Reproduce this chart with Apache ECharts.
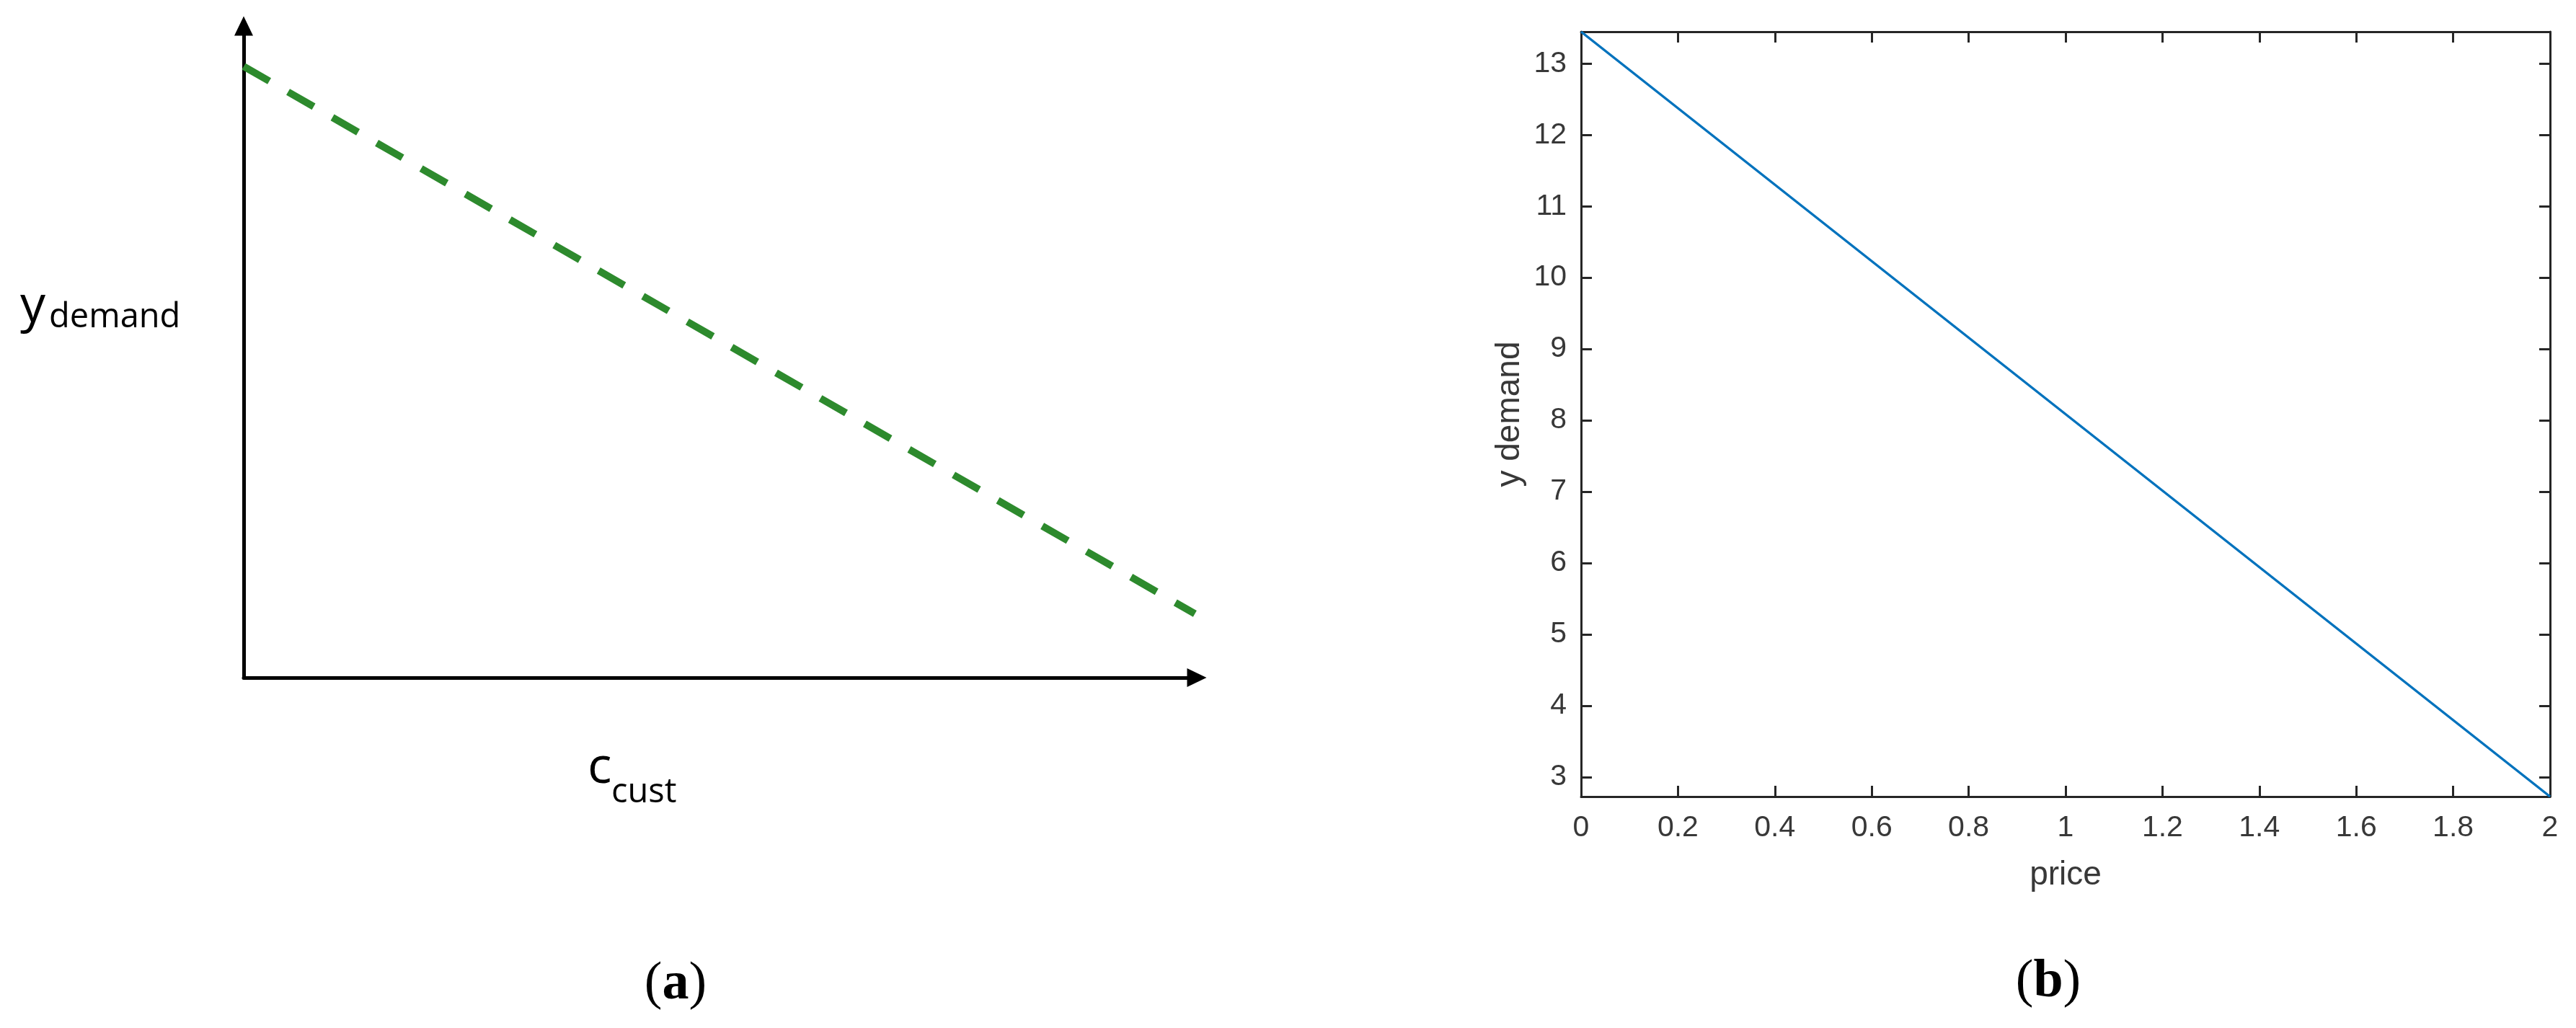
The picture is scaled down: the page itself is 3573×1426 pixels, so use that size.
<!DOCTYPE html>
<html>
<head>
<meta charset="utf-8">
<script src="https://cdn.jsdelivr.net/npm/echarts@6/dist/echarts.min.js"></script>
<style>
html,body{margin:0;padding:0;background:#fff;}
#chart{width:3573px;height:1426px;}
</style>
</head>
<body>
<div id="chart"></div>
<script>
// Panel (a): schematic demand vs customer cost (no numeric scale)
const schematicCost = [0, 0.998];
const schematicDemand = [0.938, 0.098];

// Panel (b): demand vs price
const priceValues = [0, 2];
const demandValues = [13.447, 2.727];
const priceTicks = [0, 0.2, 0.4, 0.6, 0.8, 1, 1.2, 1.4, 1.6, 1.8, 2];
const demandTicks = [3, 4, 5, 6, 7, 8, 9, 10, 11, 12, 13];

const axisColor = '#262626';
const labelColor = '#383838';
const sansB = 'Liberation Sans';
const serif = 'Liberation Serif';

const chart = echarts.init(document.getElementById('chart'), null, {renderer: 'canvas'});

const plainAxis = (idx, pos) => ({
  gridIndex: idx, type: 'value', min: 0, max: 1, position: pos,
  axisLine: {show: true, symbol: ['none', 'triangle'], symbolSize: [26, 27],
    lineStyle: {color: '#000', width: 5}},
  axisTick: {show: false}, axisLabel: {show: false}, splitLine: {show: false}
});

const boxAxisX = (pos, showLabel) => ({
  gridIndex: 1, type: 'value', min: 0, max: 2, interval: 0.2, position: pos,
  axisLine: {show: true, onZero: false, lineStyle: {color: axisColor, width: 3}},
  axisTick: {show: true, inside: true, length: 15, lineStyle: {color: axisColor, width: 3}},
  axisLabel: {show: showLabel, margin: 23, fontFamily: sansB, fontSize: 41, color: labelColor},
  splitLine: {show: false}
});

const boxAxisY = (pos, showLabel) => ({
  gridIndex: 1, type: 'value', min: 'dataMin', max: 'dataMax', position: pos,
  axisLine: {show: true, onZero: false, lineStyle: {color: axisColor, width: 3}},
  axisTick: {show: true, inside: true, length: 15, customValues: demandTicks,
    lineStyle: {color: axisColor, width: 3}},
  axisLabel: {show: showLabel, margin: 20, customValues: demandTicks,
    fontFamily: sansB, fontSize: 41, color: labelColor},
  splitLine: {show: false}
});

const xb = boxAxisX('bottom', true);
xb.name = 'price';
xb.nameLocation = 'middle';
xb.nameGap = 86;
xb.nameTextStyle = {fontFamily: sansB, fontSize: 46, color: labelColor};

const yb = boxAxisY('left', true);
yb.name = 'y demand';
yb.nameLocation = 'middle';
yb.nameGap = 76;
yb.nameTextStyle = {fontFamily: sansB, fontSize: 46, color: labelColor};

const option = {
  backgroundColor: '#ffffff',
  animation: false,
  grid: [
    {left: 338, top: 36, right: 1913, bottom: 486},
    {left: 2193, top: 44, right: 36, bottom: 321}
  ],
  xAxis: [
    plainAxis(0, 'bottom'),
    xb,
    boxAxisX('top', false)
  ],
  yAxis: [
    plainAxis(0, 'left'),
    yb,
    boxAxisY('right', false)
  ],
  series: [
    {
      type: 'line', xAxisIndex: 0, yAxisIndex: 0, symbol: 'none',
      data: schematicCost.map((c, i) => [c, schematicDemand[i]]),
      lineStyle: {color: '#2d8a2d', width: 10, type: [41, 30], cap: 'butt'},
      z: 3
    },
    {
      type: 'line', xAxisIndex: 1, yAxisIndex: 1, symbol: 'none',
      data: priceValues.map((p, i) => [p, demandValues[i]]),
      lineStyle: {color: '#0072BD', width: 3.5},
      z: 3
    },
    {
      type: 'line', xAxisIndex: 2, yAxisIndex: 2, symbol: 'none',
      data: priceValues.map((p, i) => [p, demandValues[i]]),
      lineStyle: {opacity: 0}, silent: true
    }
  ],
  graphic: [
    {type: 'text', x: 28, y: 426, style: {text: 'y', font: '70px "Open Sans"', fill: '#000', verticalAlign: 'middle', align: 'left'}},
    {type: 'text', x: 68, y: 441, style: {text: 'demand', font: '47px "Open Sans"', fill: '#000', verticalAlign: 'middle', align: 'left'}},
    {type: 'text', x: 815, y: 1066, style: {text: 'c', font: '70px "Open Sans"', fill: '#000', verticalAlign: 'middle', align: 'left'}},
    {type: 'text', x: 848, y: 1100, style: {text: 'cust', font: '47px "Open Sans"', fill: '#000', verticalAlign: 'middle', align: 'left'}},
    {type: 'text', x: 937, y: 1366, style: {
      text: '{p|(}{b|a}{p|)}', align: 'center', verticalAlign: 'middle',
      rich: {p: {fontFamily: serif, fontSize: 74, fill: '#000'}, b: {fontFamily: serif, fontSize: 74, fontWeight: 'bold', fill: '#000'}}
    }},
    {type: 'text', x: 2841, y: 1363, style: {
      text: '{p|(}{b|b}{p|)}', align: 'center', verticalAlign: 'middle',
      rich: {p: {fontFamily: serif, fontSize: 74, fill: '#000'}, b: {fontFamily: serif, fontSize: 74, fontWeight: 'bold', fill: '#000'}}
    }}
  ]
};
chart.setOption(option);
</script>
</body>
</html>
